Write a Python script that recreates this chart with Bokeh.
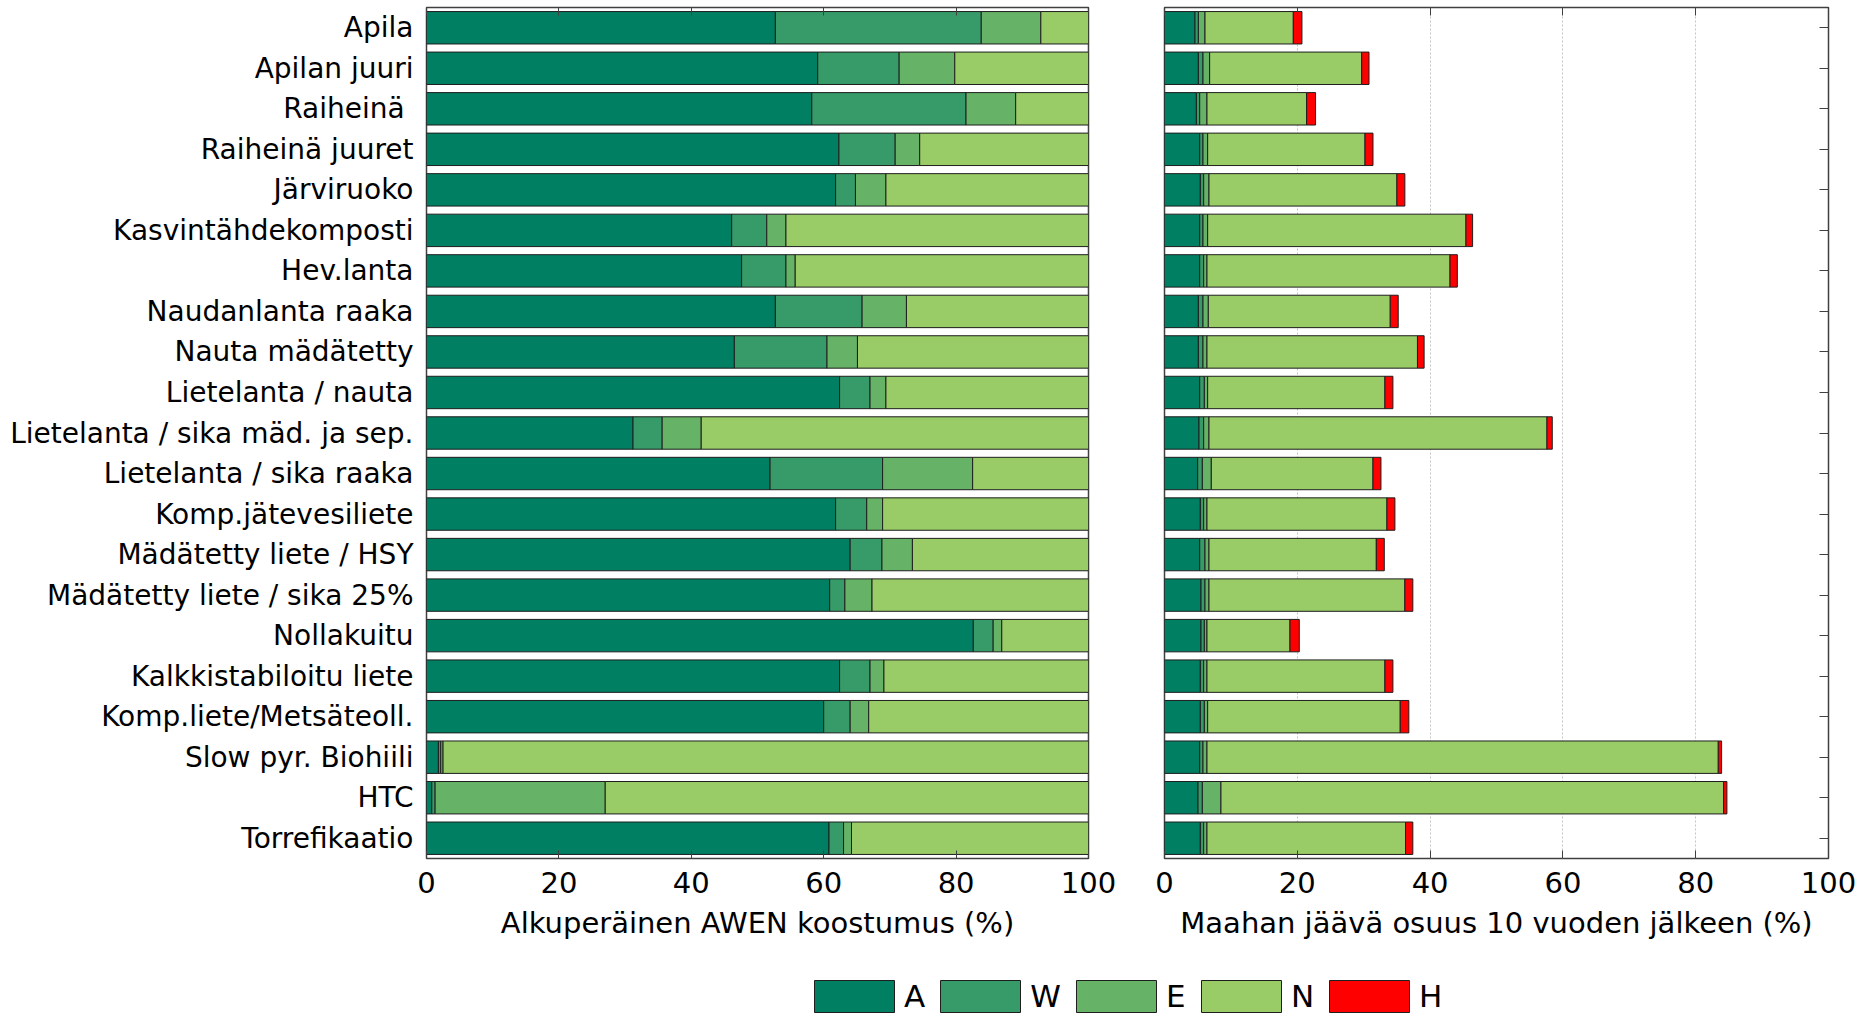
from bokeh.plotting import figure
from bokeh.models import (ColumnDataSource, FactorRange, Range1d, FixedTicker,
                          LinearAxis, Legend, LegendItem)
from bokeh.layouts import column, row
from bokeh.embed import file_html
from bokeh.resources import INLINE

materials = [
    "Apila", "Apilan juuri", "Raiheinä ", "Raiheinä juuret", "Järviruoko",
    "Kasvintähdekomposti", "Hev.lanta", "Naudanlanta raaka", "Nauta mädätetty",
    "Lietelanta / nauta", "Lietelanta / sika mäd. ja sep.", "Lietelanta / sika raaka",
    "Komp.jätevesiliete", "Mädätetty liete / HSY", "Mädätetty liete / sika 25%",
    "Nollakuitu", "Kalkkistabiloitu liete", "Komp.liete/Metsäteoll.",
    "Slow pyr. Biohiili", "HTC", "Torrefikaatio",
]

# Initial AWEN composition (%)
init_A = [52.7, 59.1, 58.2, 62.3, 61.8, 46.1, 47.6, 52.7, 46.5, 62.4, 31.2,
          51.9, 61.8, 64.0, 60.9, 82.6, 62.4, 60.0, 1.8, 0.8, 60.8]
init_W = [31.1, 12.3, 23.3, 8.5, 3.0, 5.3, 6.7, 13.1, 14.0, 4.6, 4.4,
          17.0, 4.7, 4.8, 2.3, 3.0, 4.6, 4.0, 0.35, 0.5, 2.2]
init_E = [9.0, 8.4, 7.5, 3.7, 4.6, 2.9, 1.4, 6.7, 4.6, 2.4, 5.9,
          13.6, 2.4, 4.6, 4.1, 1.3, 2.1, 2.8, 0.35, 25.7, 1.2]
init_N = [7.2, 20.2, 11.0, 25.5, 30.6, 45.7, 44.3, 27.5, 34.9, 30.6, 58.5,
          17.5, 31.1, 26.6, 32.7, 13.1, 30.9, 33.2, 97.5, 73.0, 35.8]

# Share remaining in soil after 10 years (% of initial carbon)
rem_A = [4.6, 5.1, 4.8, 5.3, 5.4, 5.3, 5.3, 5.1, 5.1, 5.3, 5.2,
         5.0, 5.4, 5.3, 5.5, 5.5, 5.4, 5.4, 5.3, 5.05, 5.4]
rem_W = [0.5, 0.7, 0.5, 0.5, 0.5, 0.5, 0.6, 0.7, 0.7, 0.7, 0.7,
         0.7, 0.5, 0.8, 0.6, 0.5, 0.5, 0.6, 0.5, 0.65, 0.5]
rem_E = [1.0, 1.0, 1.1, 0.7, 0.8, 0.7, 0.5, 0.8, 0.6, 0.5, 0.8,
         1.35, 0.5, 0.6, 0.6, 0.4, 0.5, 0.5, 0.6, 2.8, 0.5]
rem_N = [13.3, 22.9, 15.0, 23.7, 28.3, 38.9, 36.6, 27.4, 31.7, 26.7, 50.9,
         24.35, 27.1, 25.2, 29.5, 12.5, 26.8, 29.0, 77.0, 75.7, 29.9]
rem_H = [1.3, 1.1, 1.35, 1.2, 1.2, 1.0, 1.1, 1.2, 1.0, 1.2, 0.8,
         1.2, 1.2, 1.2, 1.2, 1.4, 1.2, 1.3, 0.5, 0.5, 1.1]

pools = ["A", "W", "E", "N", "H"]
pool_colors = ["#007F63", "#369B68", "#66B266", "#99CC66", "#FF0000"]
x_ticks = [0, 20, 40, 60, 80, 100]

FONT = "DejaVu Sans"
EDGE = "#1e1e1e"
FRAME = "#404040"

src_init = ColumnDataSource(dict(material=materials, A=init_A, W=init_W, E=init_E, N=init_N))
src_rem = ColumnDataSource(dict(material=materials, A=rem_A, W=rem_W, E=rem_E, N=rem_N, H=rem_H))


def style_x(p, title):
    ax = p.xaxis[0]
    ax.ticker = FixedTicker(ticks=x_ticks)
    ax.major_tick_in = 8
    ax.major_tick_out = 0
    ax.major_tick_line_color = FRAME
    ax.axis_line_color = None
    ax.major_label_text_font = FONT
    ax.major_label_text_font_size = "29px"
    ax.major_label_text_color = "black"
    ax.major_label_standoff = 13
    ax.axis_label = title
    ax.axis_label_text_font = FONT
    ax.axis_label_text_font_size = "29px"
    ax.axis_label_text_font_style = "normal"
    ax.axis_label_text_color = "black"
    ax.axis_label_standoff = 10
    # tick marks along the top edge, without labels
    top = LinearAxis(ticker=FixedTicker(ticks=x_ticks), major_tick_in=8, major_tick_out=0,
                     major_tick_line_color=FRAME, axis_line_color=None,
                     major_label_text_alpha=0, major_label_standoff=0)
    p.add_layout(top, "above")
    p.outline_line_color = FRAME
    p.outline_line_width = 1.5


# Left panel: initial composition
p1 = figure(width=1144, height=950, x_range=Range1d(0, 100),
            y_range=FactorRange(factors=list(reversed(materials))),
            output_backend="svg", toolbar_location=None,
            min_border_left=426, min_border_right=56, min_border_top=7, min_border_bottom=92)
p1.hbar_stack(pools[:4], y="material", height=0.8, color=pool_colors[:4],
              line_color=EDGE, line_width=1, source=src_init)
p1.grid.visible = False
style_x(p1, "Alkuperäinen AWEN koostumus (%)")
ya = p1.yaxis[0]
ya.major_tick_line_color = None
ya.axis_line_color = None
ya.major_label_text_font = FONT
ya.major_label_text_font_size = "28px"
ya.major_label_text_color = "black"
ya.major_label_standoff = 7

# Right panel: share remaining after 10 years
p2 = figure(width=724, height=950, x_range=Range1d(0, 100),
            y_range=FactorRange(factors=list(reversed(materials))),
            y_axis_location="right",
            output_backend="svg", toolbar_location=None,
            min_border_left=20, min_border_right=40, min_border_top=7, min_border_bottom=92)
p2.ygrid.visible = False
p2.xgrid.ticker = FixedTicker(ticks=[20, 40, 60, 80])
p2.xgrid.grid_line_color = "#c4c4c4"
p2.xgrid.grid_line_dash = "2 2"
p2.hbar_stack(pools, y="material", height=0.8, color=pool_colors,
              line_color=EDGE, line_width=1, source=src_rem)
style_x(p2, "Maahan jäävä osuus 10 vuoden jälkeen (%)")
yr = p2.yaxis[0]
yr.major_label_text_alpha = 0
yr.major_label_standoff = 0
yr.major_tick_in = 9
yr.major_tick_out = 0
yr.major_tick_line_color = FRAME
yr.axis_line_color = None

# Shared legend strip
p3 = figure(width=1868, height=63, x_range=Range1d(0, 1), y_range=Range1d(0, 1),
            x_axis_location=None, y_axis_location=None,
            output_backend="svg", toolbar_location=None, min_border=0)
p3.grid.visible = False
p3.outline_line_color = None
nan = float("nan")
items = []
for name, col in zip(pools, pool_colors):
    r = p3.vbar(x=[nan], top=[nan], width=0.1, fill_color=col, line_color=EDGE, line_width=1)
    items.append(LegendItem(label=name, renderers=[r]))
legend = Legend(items=items, orientation="horizontal", location=(804, -3),
                glyph_width=100, glyph_height=40, label_standoff=0, spacing=5,
                padding=0, margin=0, border_line_color=None, background_fill_alpha=0,
                label_text_font=FONT, label_text_font_size="31px", label_height=31,
                label_text_color="black")
p3.add_layout(legend)

layout = column(row(p1, p2), p3)
open("out.html", "w").write(file_html(layout, INLINE))
